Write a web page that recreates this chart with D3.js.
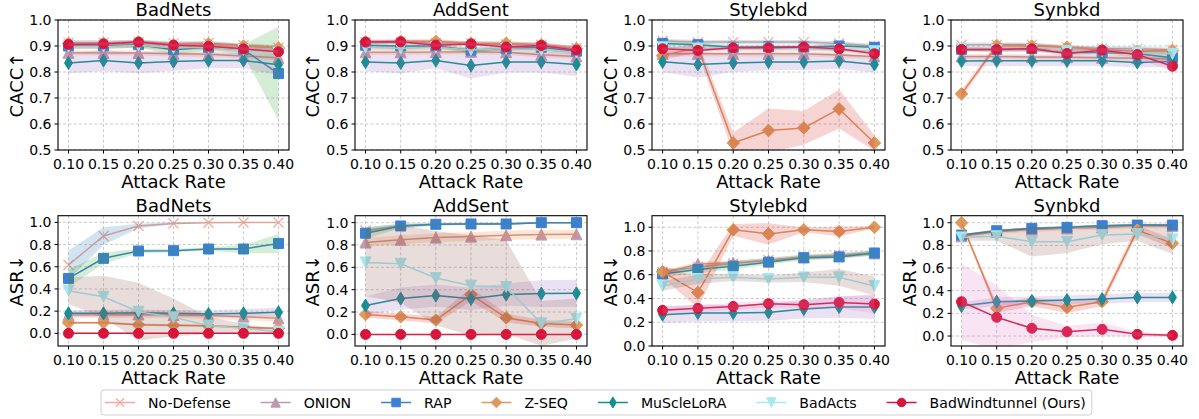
<!DOCTYPE html>
<html><head><meta charset="utf-8">
<script src="https://cdn.jsdelivr.net/npm/d3@7"></script>
<style>body{margin:0;background:#fff} svg{display:block} text{font-family:"DejaVu Sans",sans-serif;fill:#000}</style>
</head><body><svg id="c" width="1199" height="419"></svg>
<script>
// ---------------- data ----------------
const rates = [0.10, 0.15, 0.20, 0.25, 0.30, 0.35, 0.40];
const rateLabels = ["0.10","0.15","0.20","0.25","0.30","0.35","0.40"];
const methods = ["No-Defense","ONION","RAP","Z-SEQ","MuScleLoRA","BadActs","BadWindtunnel (Ours)"];
const attacks = ["BadNets","AddSent","Stylebkd","Synbkd"];
const caccTicks = [0.5,0.6,0.7,0.8,0.9,1.0];
const asrTicks = [0.0,0.2,0.4,0.6,0.8,1.0];

// CACC means (rows follow `methods`)
const caccBadNets = [
 [0.912,0.912,0.916,0.910,0.911,0.903,0.893],
 [0.874,0.873,0.873,0.870,0.868,0.862,0.855],
 [0.900,0.900,0.905,0.886,0.895,0.886,0.794],
 [0.910,0.910,0.915,0.905,0.908,0.900,0.892],
 [0.835,0.844,0.835,0.840,0.844,0.844,0.828],
 [0.898,0.898,0.903,0.893,0.895,0.885,0.875],
 [0.906,0.908,0.915,0.903,0.899,0.889,0.878]];
const caccBadNetsBand = [
 [0.012,0.010,0.008,0.008,0.008,0.008,0.010],
 [0.010,0.010,0.010,0.010,0.010,0.010,0.010],
 [0.010,0.010,0.012,0.020,0.012,0.020,0.180],
 [0.008,0.008,0.008,0.008,0.008,0.008,0.008],
 [0.040,0.040,0.040,0.035,0.030,0.030,0.040],
 [0.010,0.010,0.010,0.010,0.010,0.010,0.010],
 [0.006,0.006,0.006,0.006,0.006,0.006,0.006]];
const caccAddSent = [
 [0.915,0.915,0.912,0.910,0.906,0.905,0.892],
 [0.876,0.876,0.877,0.878,0.876,0.866,0.860],
 [0.903,0.900,0.900,0.884,0.890,0.895,0.880],
 [0.916,0.918,0.918,0.910,0.910,0.905,0.890],
 [0.838,0.835,0.844,0.825,0.838,0.838,0.829],
 [0.895,0.890,0.895,0.885,0.890,0.885,0.875],
 [0.915,0.916,0.903,0.908,0.896,0.902,0.884]];
const caccAddSentBand = [
 [0.008,0.008,0.008,0.008,0.008,0.008,0.008],
 [0.010,0.010,0.010,0.010,0.010,0.010,0.010],
 [0.008,0.008,0.008,0.010,0.008,0.008,0.008],
 [0.008,0.008,0.008,0.008,0.008,0.008,0.008],
 [0.035,0.040,0.030,0.050,0.040,0.040,0.045],
 [0.008,0.008,0.008,0.008,0.008,0.008,0.008],
 [0.006,0.006,0.006,0.006,0.006,0.006,0.006]];
const caccStylebkd = [
 [0.920,0.915,0.915,0.915,0.915,0.910,0.900],
 [0.870,0.870,0.870,0.870,0.870,0.865,0.860],
 [0.910,0.905,0.895,0.897,0.896,0.900,0.895],
 [0.863,0.895,0.527,0.575,0.585,0.658,0.527],
 [0.839,0.829,0.835,0.838,0.838,0.842,0.829],
 [0.895,0.890,0.890,0.890,0.890,0.885,0.880],
 [0.889,0.883,0.893,0.893,0.896,0.889,0.870]];
const caccStylebkdBand = [
 [0.008,0.008,0.008,0.008,0.008,0.008,0.008],
 [0.010,0.010,0.010,0.010,0.010,0.010,0.010],
 [0.008,0.008,0.008,0.008,0.008,0.008,0.008],
 [0.015,0.020,0.040,0.085,0.065,0.075,0.030],
 [0.040,0.050,0.035,0.030,0.030,0.030,0.030],
 [0.008,0.008,0.008,0.008,0.008,0.008,0.008],
 [0.006,0.006,0.006,0.006,0.006,0.006,0.008]];
const caccSynbkd = [
 [0.905,0.905,0.905,0.895,0.890,0.890,0.885],
 [0.860,0.860,0.858,0.857,0.855,0.853,0.850],
 [0.887,0.887,0.890,0.875,0.875,0.870,0.855],
 [0.716,0.902,0.900,0.895,0.885,0.880,0.883],
 [0.842,0.843,0.843,0.843,0.843,0.837,0.840],
 [0.890,0.885,0.885,0.880,0.880,0.875,0.870],
 [0.887,0.887,0.889,0.871,0.884,0.867,0.822]];
const caccSynbkdBand = [
 [0.008,0.008,0.008,0.008,0.008,0.008,0.008],
 [0.010,0.010,0.010,0.010,0.010,0.010,0.010],
 [0.008,0.008,0.008,0.010,0.010,0.012,0.020],
 [0.015,0.010,0.008,0.008,0.008,0.008,0.008],
 [0.020,0.020,0.020,0.020,0.020,0.020,0.020],
 [0.008,0.008,0.008,0.008,0.008,0.008,0.010],
 [0.008,0.008,0.008,0.010,0.010,0.015,0.020]];

// ASR means
const asrBadNets = [
 [0.616,0.877,0.967,0.990,0.997,0.998,0.999],
 [0.165,0.168,0.170,0.165,0.160,0.150,0.135],
 [0.495,0.676,0.742,0.745,0.760,0.760,0.810],
 [0.096,0.096,0.078,0.072,0.068,0.054,0.045],
 [0.180,0.180,0.185,0.180,0.175,0.180,0.190],
 [0.384,0.330,0.195,0.144,0.070,0.045,0.015],
 [0.000,0.000,0.000,0.000,0.000,0.000,0.000]];
const asrBadNetsBand = [
 [0.130,0.080,0.020,0.010,0.003,0.003,0.002],
 [0.030,0.030,0.030,0.030,0.030,0.030,0.030],
 [0.080,0.050,0.020,0.015,0.015,0.035,0.085],
 [0.010,0.010,0.010,0.010,0.010,0.010,0.010],
 [0.030,0.030,0.030,0.030,0.030,0.040,0.040],
 [0.120,0.190,0.260,0.170,0.080,0.040,0.020],
 [0.002,0.002,0.002,0.002,0.002,0.002,0.002]];
const asrAddSent = [
 [0.930,0.970,0.985,0.990,0.990,1.000,1.000],
 [0.822,0.846,0.866,0.875,0.887,0.893,0.896],
 [0.905,0.970,0.985,0.988,0.988,1.000,1.000],
 [0.178,0.157,0.128,0.356,0.148,0.098,0.083],
 [0.258,0.320,0.347,0.318,0.356,0.365,0.368],
 [0.644,0.632,0.504,0.436,0.424,0.098,0.140],
 [0.000,0.000,0.000,0.000,0.000,0.000,0.000]];
const asrAddSentBand = [
 [0.030,0.020,0.010,0.010,0.010,0.003,0.003],
 [0.040,0.040,0.040,0.040,0.040,0.040,0.040],
 [0.050,0.020,0.010,0.010,0.010,0.005,0.005],
 [0.030,0.030,0.030,0.060,0.040,0.030,0.030],
 [0.080,0.100,0.100,0.100,0.100,0.120,0.120],
 [0.300,0.350,0.420,0.450,0.420,0.200,0.180],
 [0.003,0.003,0.003,0.003,0.003,0.003,0.003]];
const asrStylebkd = [
 [0.625,0.665,0.695,0.725,0.750,0.765,0.785],
 [0.615,0.690,0.700,0.720,0.745,0.760,0.780],
 [0.606,0.644,0.672,0.706,0.744,0.750,0.783],
 [0.625,0.450,0.978,0.944,0.978,0.964,1.000],
 [0.264,0.278,0.278,0.283,0.311,0.328,0.328],
 [0.506,0.564,0.578,0.564,0.578,0.578,0.506],
 [0.300,0.317,0.333,0.356,0.347,0.367,0.353]];
const asrStylebkdBand = [
 [0.020,0.020,0.020,0.020,0.020,0.020,0.020],
 [0.020,0.020,0.020,0.020,0.020,0.020,0.020],
 [0.030,0.030,0.030,0.020,0.020,0.020,0.020],
 [0.050,0.130,0.050,0.090,0.020,0.040,0.010],
 [0.070,0.070,0.070,0.070,0.080,0.090,0.100],
 [0.040,0.040,0.030,0.030,0.040,0.070,0.080],
 [0.030,0.030,0.030,0.030,0.030,0.050,0.080]];
const asrSynbkd = [
 [0.890,0.930,0.950,0.960,0.970,0.980,0.980],
 [0.880,0.920,0.940,0.950,0.960,0.970,0.970],
 [0.891,0.929,0.950,0.959,0.974,0.979,0.979],
 [1.000,0.244,0.303,0.253,0.303,0.935,0.818],
 [0.265,0.303,0.309,0.318,0.326,0.341,0.341],
 [0.870,0.880,0.832,0.832,0.891,0.900,0.853],
 [0.303,0.165,0.068,0.038,0.059,0.015,0.006]];
const asrSynbkdBand = [
 [0.010,0.010,0.010,0.010,0.010,0.010,0.010],
 [0.020,0.020,0.020,0.020,0.020,0.020,0.020],
 [0.010,0.010,0.010,0.010,0.010,0.010,0.010],
 [0.020,0.040,0.040,0.050,0.040,0.040,0.040],
 [0.030,0.040,0.040,0.040,0.040,0.040,0.040],
 [0.030,0.040,0.130,0.100,0.080,0.060,0.130],
 [0.340,0.280,0.120,0.050,0.060,0.020,0.015]];

const lineColors = ["#f5aa9c","#bf98b4","#3d80d2","#dc9a5c","#10918f","#a6e8ef","#d8143a"];
const bandColors = ["#1f77b4","#ff7f0e","#2ca02c","#d62728","#9467bd","#8c564b","#e377c2"];
const markerTypes = ["x","^","s","D","d","v","o"];

// ---------------- layout ----------------
const colLeft = [58, 355, 652, 951];
const colWidth = [231, 232, 233, 232];
const rowTop = [20, 215.7];
const rowBottom = [150, 346];
const ylabX = [17, 313, 611, 910];

const panels = [
 {row:0,col:0,means:caccBadNets,bands:caccBadNetsBand,dom:[0.5,1.0],ticks:caccTicks,ylab:"CACC↑"},
 {row:0,col:1,means:caccAddSent,bands:caccAddSentBand,dom:[0.5,1.0],ticks:caccTicks,ylab:"CACC↑"},
 {row:0,col:2,means:caccStylebkd,bands:caccStylebkdBand,dom:[0.5,1.0],ticks:caccTicks,ylab:"CACC↑"},
 {row:0,col:3,means:caccSynbkd,bands:caccSynbkdBand,dom:[0.5,1.0],ticks:caccTicks,ylab:"CACC↑"},
 {row:1,col:0,means:asrBadNets,bands:asrBadNetsBand,dom:[-0.114,1.06],ticks:asrTicks,ylab:"ASR↓"},
 {row:1,col:1,means:asrAddSent,bands:asrAddSentBand,dom:[-0.104,1.062],ticks:asrTicks,ylab:"ASR↓"},
 {row:1,col:2,means:asrStylebkd,bands:asrStylebkdBand,dom:[0.0,1.097],ticks:asrTicks,ylab:"ASR↓"},
 {row:1,col:3,means:asrSynbkd,bands:asrSynbkdBand,dom:[-0.088,1.062],ticks:asrTicks,ylab:"ASR↓"}
];

function markerPath(t, k){
  k = k || 1;
  const s = 5*k;
  switch(t){
    case "x": return `M${-s},${-s}L${s},${s}M${-s},${s}L${s},${-s}`;
    case "^": { const r=5.5*k; return `M0,${-r}L${r},${r}L${-r},${r}Z`; }
    case "v": { const r=5.5*k; return `M0,${r}L${r},${-r}L${-r},${-r}Z`; }
    case "s": return `M${-s},${-s}H${s}V${s}H${-s}Z`;
    case "D": { const r=6.3*k; return `M0,${-r}L${r},0L0,${r}L${-r},0Z`; }
    case "d": { const r=6.5*k, w=4*k; return `M0,${-r}L${w},0L0,${r}L${-w},0Z`; }
    case "o": { const r=5*k; return `M${r},0A${r},${r} 0 1,1 ${-r},0A${r},${r} 0 1,1 ${r},0Z`; }
  }
}

const svg = d3.select("#c");
const defs = svg.append("defs");

panels.forEach((p, pi) => {
  const L = colLeft[p.col], W = colWidth[p.col];
  const T = rowTop[p.row], B = rowBottom[p.row];
  const x = d3.scaleLinear().domain([0.085, 0.415]).range([L, L+W]);
  const y = d3.scaleLinear().domain(p.dom).range([B, T]);
  const g = svg.append("g");

  defs.append("clipPath").attr("id","clip"+pi)
    .append("rect").attr("x",L).attr("y",T).attr("width",W).attr("height",B-T);

  // grid
  const grid = g.append("g").attr("stroke","#b0b0b0").attr("stroke-width",0.8)
    .attr("stroke-dasharray","3,2.2").attr("stroke-opacity",0.85);
  rates.forEach(r => grid.append("line").attr("x1",x(r)).attr("x2",x(r)).attr("y1",T).attr("y2",B));
  p.ticks.forEach(t => grid.append("line").attr("x1",L).attr("x2",L+W).attr("y1",y(t)).attr("y2",y(t)));

  const plot = g.append("g").attr("clip-path",`url(#clip${pi})`);
  methods.forEach((m, i) => {
    const mean = p.means[i], band = p.bands[i];
    const pts = rates.map((r,j) => [r, mean[j]]);
    plot.append("path").datum(pts)
      .attr("d", d3.line().x(d=>x(d[0])).y(d=>y(d[1])))
      .attr("fill","none").attr("stroke",lineColors[i]).attr("stroke-width",1.5);
    const mt = markerTypes[i];
    plot.selectAll(null).data(pts).enter().append("path")
      .attr("transform", d => `translate(${x(d[0])},${y(d[1])})`)
      .attr("d", markerPath(mt))
      .attr("fill", mt==="x" ? "none" : lineColors[i])
      .attr("stroke", lineColors[i]).attr("stroke-width", mt==="x"?1.3:1);
    plot.append("path").datum(rates.map((r,j)=>[r, mean[j]-band[j], mean[j]+band[j]]))
      .attr("d", d3.area().x(d=>x(d[0])).y0(d=>y(d[1])).y1(d=>y(d[2])))
      .attr("fill", bandColors[i]).attr("fill-opacity",0.2).attr("stroke","none");
  });

  // frame
  g.append("rect").attr("x",L).attr("y",T).attr("width",W).attr("height",B-T)
    .attr("fill","none").attr("stroke","#000").attr("stroke-width",1.1);

  // x ticks
  rates.forEach((r,j) => {
    g.append("line").attr("x1",x(r)).attr("x2",x(r)).attr("y1",B).attr("y2",B+3.5).attr("stroke","#000");
    g.append("text").attr("x",x(r)).attr("y",B+18.5).attr("text-anchor","middle")
      .style("font-size","14px").text(rateLabels[j]);
  });
  // y ticks
  p.ticks.forEach(t => {
    g.append("line").attr("x1",L-3.5).attr("x2",L).attr("y1",y(t)).attr("y2",y(t)).attr("stroke","#000");
    g.append("text").attr("x",L-6.5).attr("y",y(t)).attr("dy","0.36em").attr("text-anchor","end")
      .style("font-size","14px").text(d3.format(".1f")(t));
  });

  // title, labels
  g.append("text").attr("x",L+W/2).attr("y",T-4).attr("text-anchor","middle")
    .style("font-size","18px").text(attacks[p.col]);
  g.append("text").attr("x",L+W/2).attr("y",B+38).attr("text-anchor","middle")
    .style("font-size","18px").text("Attack Rate");
  g.append("text").attr("transform",`translate(${ylabX[p.col]},${(T+B)/2}) rotate(-90)`)
    .attr("text-anchor","middle").attr("dy","0.36em")
    .style("font-size","18px").text(p.ylab);
});

// ---------------- legend ----------------
const leg = svg.append("g");
const box = leg.append("rect").attr("x",101).attr("y",390).attr("width",1002).attr("height",25)
  .attr("rx",3).attr("fill","#fff").attr("stroke","#d0d0d0").attr("stroke-width",1);
let lx = 105;
const ly = 402.5;
methods.forEach((m,i) => {
  leg.append("line").attr("x1",lx).attr("x2",lx+30).attr("y1",ly).attr("y2",ly)
    .attr("stroke",lineColors[i]).attr("stroke-width",1.5);
  const mt = markerTypes[i];
  leg.append("path").attr("transform",`translate(${lx+15},${ly})`).attr("d",markerPath(mt,0.85))
    .attr("fill", mt==="x"?"none":lineColors[i]).attr("stroke",lineColors[i]).attr("stroke-width", mt==="x"?1.2:1);
  const t = leg.append("text").attr("x",lx+43).attr("y",ly).attr("dy","0.36em")
    .style("font-size","14.1px").text(m);
  lx = lx + 43 + t.node().getComputedTextLength() + 30;
});
box.attr("width", lx - 30 + 6 - 101);
</script>
</body></html>
